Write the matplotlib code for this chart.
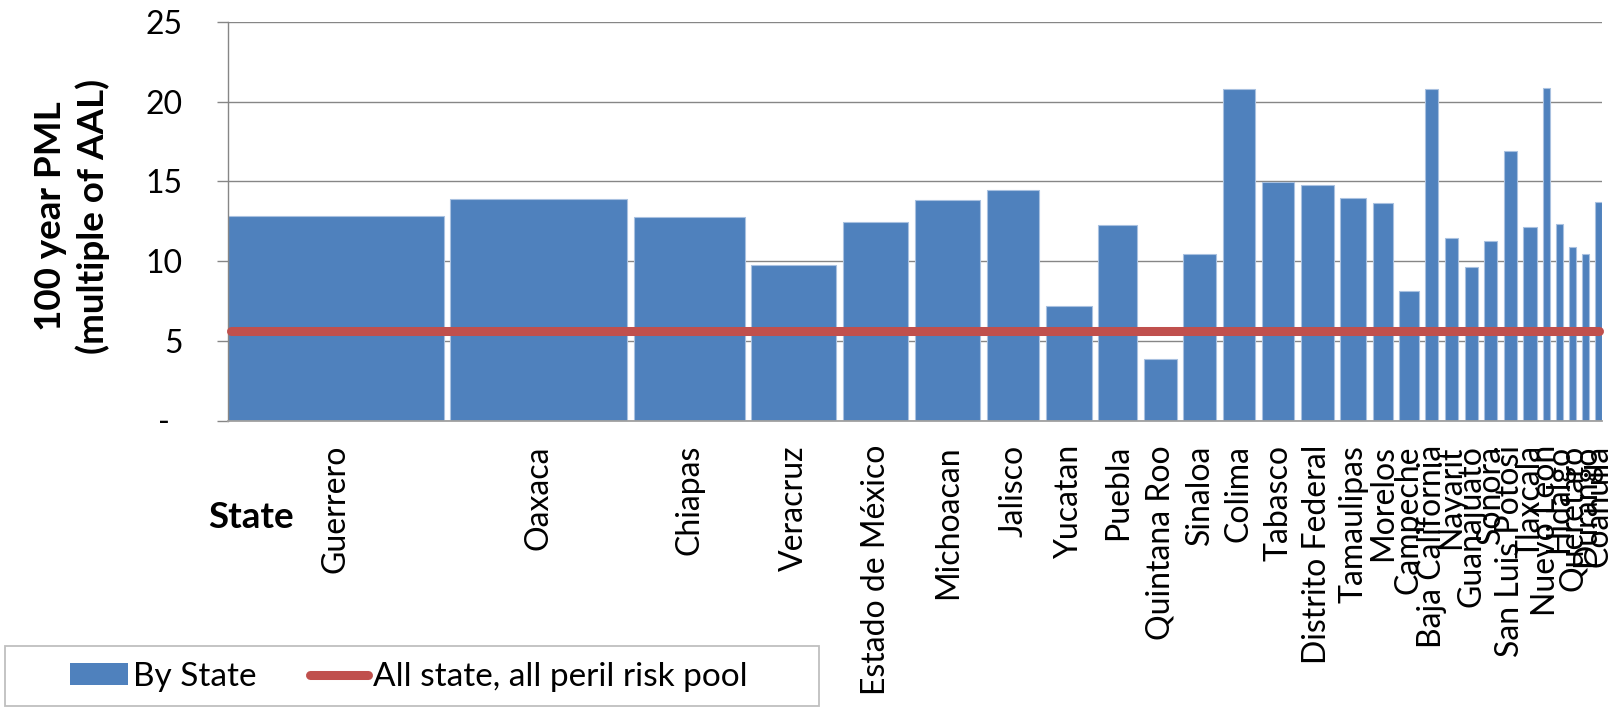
import matplotlib
matplotlib.use("Agg")
import matplotlib.pyplot as plt
import numpy as np
from matplotlib.patches import Rectangle, Patch
from matplotlib.lines import Line2D

# States, ordered by exposure (bar width = relative exposure units)
states = ["Guerrero", "Oaxaca", "Chiapas", "Veracruz", "Estado de México",
          "Michoacan", "Jalisco", "Yucatan", "Puebla", "Quintana Roo",
          "Sinaloa", "Colima", "Tabasco", "Distrito Federal", "Tamaulipas",
          "Morelos", "Campeche", "Baja California", "Nayarit", "Guanajuato",
          "Sonora", "San Luis Potosi", "Tlaxcala", "Nuevo Leon", "Hidalgo",
          "Queretaro", "Durango", "Coahuila"]

# 100-year PML as a multiple of AAL, per state
pml_multiple = [12.85, 13.88, 12.77, 9.76, 12.44, 13.84, 14.48, 7.17, 12.25,
                3.85, 10.45, 20.78, 14.98, 14.78, 13.94, 13.65, 8.13, 20.82,
                11.44, 9.66, 11.27, 16.89, 12.13, 20.86, 12.31, 10.87, 10.43,
                13.73]

# Relative exposure units (bar widths)
exposure_units = [33, 27, 17, 13, 10, 10, 8, 7, 6, 5, 5, 5, 5, 5, 4, 3, 3,
                  2, 2, 2, 2, 2, 2, 1, 1, 1, 1, 1]

# Pooled level: all state, all peril risk pool
pool_level = 5.64

y_ticks = [0, 5, 10, 15, 20, 25]
y_tick_labels = ["", "5", "10", "15", "20", "25"]

BLUE = "#4F81BD"
RED = "#C0504D"
GRID = "#868686"
FS = 23
FS_TITLE = 26.5

plt.rcParams["font.family"] = ["Lato", "DejaVu Sans"]

W, H = 1614, 710
fig = plt.figure(figsize=(W / 100, H / 100), dpi=100)
ax = fig.add_axes([228 / W, 289.3 / H, (1602 - 228) / W, (688 - 289.3) / H])

gap = 1
widths = np.array(exposure_units, dtype=float)
lefts = np.concatenate([[0.0], np.cumsum(widths + gap)[:-1]])
total = lefts[-1] + widths[-1]

ax.bar(lefts, pml_multiple, width=widths, align="edge", color=BLUE,
       edgecolor="#A9C1E0", linewidth=0.8, zorder=2)
ax.plot([0.5, total - 0.5], [pool_level, pool_level], color=RED, lw=6.5,
        solid_capstyle="round", zorder=3, clip_on=False)

ax.set_xlim(0, total)
ax.set_ylim(0, 25)
ax.set_yticks(y_ticks)
ax.set_yticklabels(y_tick_labels)
ax.set_xticks(lefts + widths / 2)
ax.set_xticklabels(states, rotation=90, va="top", ha="center")
ax.tick_params(axis="x", length=0, pad=17.5, labelsize=FS)
ax.tick_params(axis="y", length=8, width=1, color=GRID, pad=24.5, labelsize=FS)

# zero shown as a dash, accounting style
ax.annotate("-", xy=(0, 0), xycoords=("axes fraction", "data"),
            xytext=(-64, -2), textcoords="offset pixels",
            ha="center", va="center", fontsize=FS)

ax.yaxis.grid(True, color=GRID, lw=1)
ax.set_axisbelow(True)
for side in ("top", "right"):
    ax.spines[side].set_visible(False)
ax.spines["left"].set_color(GRID)
ax.spines["left"].set_linewidth(1)
ax.spines["bottom"].set_color("#A0A0A0")
ax.spines["bottom"].set_linewidth(1.3)

fig.text(72 / W, 1 - 216 / H, "100 year PML\n(multiple of AAL)", rotation=90,
         ha="center", va="center", fontweight="bold", fontsize=FS_TITLE,
         multialignment="center", linespacing=1.3)
fig.text(251 / W, 1 - 518 / H, "State", ha="center", va="center",
         fontweight="bold", fontsize=FS_TITLE)

# legend with its own frame
fig.add_artist(Rectangle((5 / W, 4 / H), 814 / W, 60 / H, transform=fig.transFigure,
                         fill=False, edgecolor="#BFBFBF", lw=1.3))
handles = [Patch(facecolor=BLUE, edgecolor="none"),
           Line2D([], [], color=RED, lw=6.5, solid_capstyle="round")]
fig.legend(handles, ["By State", "All state, all peril risk pool"],
           loc="center left", bbox_to_anchor=(70 / W, 1 - 677 / H), ncol=2,
           frameon=False, handlelength=1.75, handleheight=0.65,
           handletextpad=0.15, columnspacing=1.6, borderpad=0,
           borderaxespad=0, fontsize=24)

fig.savefig("out.png", dpi=100)
